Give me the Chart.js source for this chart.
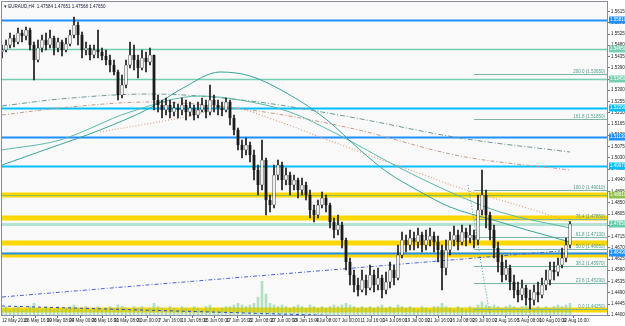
<!DOCTYPE html>
<html><head><meta charset="utf-8">
<script src="https://cdn.jsdelivr.net/npm/chart.js@4.4.0/dist/chart.umd.min.js"></script>
<style>html,body{margin:0;padding:0;background:#fff;overflow:hidden}canvas{display:block}</style>
</head><body>
<canvas id="c" width="625" height="326"></canvas>
<script>
const symbolTitle = 'EURAUD,H4  1.47584 1.47651 1.47568 1.47650';
const firstOpen = 1.5453;
const closes = [
1.5461,1.5481,1.5509,1.5493,1.5529,1.5517,1.5541,1.5481,1.5421,1.5469,
1.5501,1.5481,1.5509,1.5469,1.5493,1.5461,1.5485,1.5521,1.5561,1.5521,
1.5461,1.5469,1.5441,1.5461,1.5453,1.5437,1.5421,1.5401,1.5373,1.5281,
1.5321,1.5401,1.5441,1.5421,1.5389,1.5429,1.5413,1.5441,1.5261,1.5241,
1.5221,1.5241,1.5213,1.5229,1.5221,1.5241,1.5213,1.5229,1.5201,1.5221,
1.5241,1.5213,1.5261,1.5241,1.5229,1.5221,1.5253,1.5189,1.5141,1.5081,
1.5061,1.5081,1.5041,1.4981,1.4921,1.5021,1.4861,1.4841,1.4961,1.5001,
1.4941,1.4961,1.4921,1.4941,1.4901,1.4921,1.4881,1.4821,1.4801,1.4841,
1.4869,1.4841,1.4773,1.4741,1.4761,1.4701,1.4613,1.4561,1.4521,1.4501,
1.4541,1.4509,1.4561,1.4521,1.4549,1.4501,1.4533,1.4581,1.4549,1.4641,
1.4701,1.4681,1.4709,1.4693,1.4721,1.4681,1.4701,1.4717,1.4693,1.4661,
1.4589,1.4661,1.4701,1.4721,1.4693,1.4733,1.4709,1.4721,1.4701,1.4821,
1.4881,1.4801,1.4741,1.4669,1.4613,1.4561,1.4589,1.4533,1.4501,1.4481,
1.4509,1.4469,1.4461,1.4493,1.4481,1.4521,1.4541,1.4581,1.4573,1.4601,
1.4629,1.4681,1.4765];
const highs = [
1.5481,1.5501,1.5529,1.5521,1.5549,1.5541,1.5553,1.5549,1.5493,1.5501,
1.5521,1.5529,1.5541,1.5517,1.5509,1.5501,1.5509,1.5541,1.5593,1.5573,
1.5533,1.5493,1.5481,1.5481,1.5541,1.5469,1.5461,1.5441,1.5421,1.5381,
1.5361,1.5421,1.5493,1.5481,1.5441,1.5461,1.5453,1.5469,1.5441,1.5281,
1.5261,1.5269,1.5261,1.5253,1.5245,1.5269,1.5261,1.5253,1.5241,1.5253,
1.5269,1.5261,1.5321,1.5281,1.5261,1.5253,1.5269,1.5261,1.5201,1.5149,
1.5101,1.5109,1.5093,1.5061,1.5001,1.5101,1.5029,1.4881,1.5001,1.5021,
1.5013,1.4989,1.4973,1.4961,1.4949,1.4949,1.4933,1.4901,1.4841,1.4861,
1.4893,1.4881,1.4849,1.4789,1.4801,1.4773,1.4709,1.4629,1.4581,1.4549,
1.4581,1.4561,1.4601,1.4581,1.4589,1.4561,1.4573,1.4613,1.4601,1.4681,
1.4733,1.4721,1.4741,1.4733,1.4749,1.4733,1.4741,1.4749,1.4733,1.4717,
1.4681,1.4701,1.4733,1.4757,1.4741,1.4761,1.4749,1.4761,1.4741,1.4881,
1.4981,1.4901,1.4813,1.4761,1.4693,1.4641,1.4621,1.4601,1.4561,1.4533,
1.4541,1.4521,1.4501,1.4521,1.4533,1.4549,1.4581,1.4613,1.4613,1.4629,
1.4669,1.4709,1.4775];
const lows = [
1.5429,1.5453,1.5469,1.5473,1.5485,1.5493,1.5501,1.5461,1.5341,1.5413,
1.5453,1.5461,1.5469,1.5441,1.5453,1.5437,1.5453,1.5477,1.5509,1.5481,
1.5429,1.5441,1.5421,1.5429,1.5429,1.5421,1.5401,1.5373,1.5361,1.5261,
1.5269,1.5309,1.5389,1.5381,1.5349,1.5381,1.5373,1.5401,1.5221,1.5213,
1.5189,1.5201,1.5189,1.5197,1.5189,1.5201,1.5181,1.5197,1.5181,1.5189,
1.5213,1.5189,1.5201,1.5213,1.5201,1.5197,1.5213,1.5161,1.5121,1.5061,
1.5029,1.5041,1.5013,1.4941,1.4881,1.4901,1.4801,1.4813,1.4829,1.4941,
1.4901,1.4921,1.4881,1.4901,1.4869,1.4881,1.4861,1.4789,1.4773,1.4789,
1.4829,1.4813,1.4749,1.4709,1.4721,1.4669,1.4581,1.4521,1.4493,1.4477,
1.4493,1.4481,1.4501,1.4493,1.4501,1.4469,1.4485,1.4509,1.4521,1.4541,
1.4629,1.4653,1.4661,1.4661,1.4669,1.4653,1.4661,1.4677,1.4653,1.4613,
1.4501,1.4561,1.4641,1.4677,1.4661,1.4681,1.4677,1.4689,1.4669,1.4681,
1.4801,1.4749,1.4701,1.4629,1.4573,1.4533,1.4541,1.4501,1.4469,1.4453,
1.4461,1.4441,1.4425,1.4441,1.4453,1.4469,1.4501,1.4521,1.4541,1.4557,
1.4589,1.4613,1.4669];
const volumes = [
2,3,2,2.5,3,2,2,3,4,2.5, 2,3,2.5,2,3,2,2.5,3,3.5,2.5,
2,3,2,2.5,3,2,2.5,3,2.5,3.5, 3,2.5,2,3,2.5,3,2,2.5,4,3,
2.5,2,3,2.5,2,3,2.5,2,3,2.5, 2,3,3.5,2.5,2,2.5,3,3,3.5,4,
3.5,3,3.5,4,6,11,7,4,3.5,3, 3.5,3,2.5,3,3.5,3,2.5,3.5,3,2.5,
3,2.5,3,3.5,3,3.5,4,3.5,3,2.5, 3,2.5,3,2.5,3,3.5,2.5,3,2.5,3.5,
3,2.5,3,2.5,2,3,2.5,2,3,3, 4,3,2.5,2,3,2.5,2,3,2.5,3.5,
4.5,3.5,3,3.5,3,2.5,3,3.5,3,2.5, 3,3.5,3,2.5,3,2.5,3,2.5,3,3.5,
3,3.5,4];
const xTickLabels = ['12 May 2016','16 May 16:00','19 May 08:00','24 May 00:00','26 May 16:00','31 May 08:00',
'3 Jun 00:00','7 Jun 16:00','10 Jun 08:00','15 Jun 00:00','17 Jun 16:00','22 Jun 08:00','27 Jun 00:00',
'29 Jun 16:00','4 Jul 08:00','7 Jul 00:00','11 Jul 16:00','14 Jul 08:00','19 Jul 00:00','21 Jul 16:00',
'26 Jul 08:00','29 Jul 00:00','2 Aug 16:00','5 Aug 08:00','10 Aug 00:00','12 Aug 16:00'];
const labelStep = 5.6;
const yTicks = [1.44000,1.44450,1.44900,1.45350,1.45800,1.46250,1.46700,1.47150,1.47600,1.48050,1.48500,
1.48950,1.49400,1.49850,1.50300,1.50750,1.51200,1.51650,1.52100,1.52550,1.53000,1.53450,1.53900,1.54350,
1.54800,1.55250,1.55700,1.56150];
// horizontal levels (prices)
const lineLevels = [1.5581,1.5465,1.5345,1.5229,1.5113,1.4997,1.4881,1.4765,1.4649];
const lineKinds  = ['blue','green','green','sky','blue','sky','olive','bid','blue'];
const bandLevels = [1.4881,1.4789,1.4689,1.4641,1.4421];
const fibLevels = [0,23.6,38.2,50,61.8,76.4,100,161.8,200];
const fibPrices = [1.4425,1.4529,1.4597,1.4665,1.4713,1.4785,1.4901,1.5185,1.5365];
const fibStart = 118;
// moving averages [bar, price]
const maA = [[0,1.5001],[12,1.5069],[24.5,1.5141],[37,1.5229],[45.25,1.5309],[54.5,1.5373],[62,1.5357],[72,1.5281],[81.25,1.5181],[89.5,1.5061],[96.25,1.4973],[103.75,1.4901],[112,1.4833],[122.75,1.4781],[131.25,1.4741],[142,1.4693]];
const maB = [[0,1.5061],[14.5,1.5101],[32,1.5213],[49.5,1.5277],[59.5,1.5261],[72,1.5213],[83.25,1.5129],[99.5,1.4989],[112,1.4893],[124.5,1.4813],[142,1.4749]];
const maC = [[0,1.5237],[14.5,1.5265],[37,1.5285],[62,1.5257],[87,1.5193],[114.5,1.5109],[142,1.5053]];
const maD = [[0,1.5201],[14.5,1.5229],[37,1.5253],[62,1.5221],[87,1.5149],[114.5,1.5037],[142,1.4981]];
const maE = [[24.5,1.5133],[44.5,1.5189],[57,1.5229],[69.5,1.5173],[79.5,1.5113],[89.5,1.5053],[102,1.4981],[114.5,1.4909],[124.5,1.4861],[134.5,1.4813],[142,1.4773]];
const trendUp = [[0,1.4473],[139.5,1.4657]];
const trendLow = [[0,1.4437],[87,1.4397]];
const trendSteep = [[116.5,1.4921],[122,1.4397]];

const opens = closes.map((c,i)=> i===0 ? firstOpen : closes[i-1]);
const pts = a => a.map(p=>({x:p[0], y:p[1]}));
const kindColor = {blue:'#1e90ff', sky:'#00bfff', green:'#74cfb2', olive:'#8fc04a', bid:'#b5e3d3'};
const kindWidth = {blue:2, sky:2, green:1.5, olive:1, bid:3};

const overlay = {
  id:'overlay',
  beforeDraw(chart){
    const {ctx, chartArea:a} = chart;
    ctx.save(); ctx.fillStyle='#f9f9f9'; ctx.fillRect(a.left,a.top,a.width,a.height); ctx.restore();
  },
  beforeDatasetsDraw(chart){
    const {ctx, chartArea:a, scales:{x,y}} = chart;
    ctx.save();
    bandLevels.forEach(p=>{ const py=y.getPixelForValue(p); ctx.fillStyle='#ffd700'; ctx.fillRect(a.left,py-2.5,a.width,5); });
    lineLevels.forEach((p,i)=>{ const py=Math.round(y.getPixelForValue(p))+0.5; ctx.strokeStyle=kindColor[lineKinds[i]]; ctx.lineWidth=kindWidth[lineKinds[i]];
      ctx.beginPath(); ctx.moveTo(a.left,py); ctx.lineTo(a.right,py); ctx.stroke(); });
    const fx = x.getPixelForValue(fibStart);
    ctx.font='4.5px "Liberation Sans"'; ctx.textAlign='right'; ctx.textBaseline='bottom';
    fibPrices.forEach((p,i)=>{ const py=Math.round(y.getPixelForValue(p))+0.5;
      ctx.strokeStyle='#7fb5a5'; ctx.lineWidth=1; ctx.beginPath(); ctx.moveTo(fx,py); ctx.lineTo(a.right,py); ctx.stroke();
      ctx.fillStyle='#4f9f8f'; ctx.fillText(fibLevels[i].toFixed(1)+' ('+p.toFixed(5)+')', a.right-3, py-0.5); });
    ctx.restore();
  },
  afterDraw(chart){
    const {ctx, chartArea:a, scales:{y}} = chart;
    ctx.save();
    ctx.strokeStyle='#8a8aa8'; ctx.lineWidth=1;
    ctx.strokeRect(a.left+0.5,a.top+0.5,a.width-1,a.height-1);
    ctx.font='4.5px "Liberation Sans"'; ctx.textBaseline='middle'; ctx.textAlign='left';
    lineLevels.forEach((p,i)=>{ const py=y.getPixelForValue(p); const k=lineKinds[i];
      ctx.fillStyle = k==='bid' ? '#66cdaa' : kindColor[k]; ctx.fillRect(a.right+1,py-3.5,16,7);
      ctx.fillStyle='#ffffff'; ctx.fillText(p.toFixed(5), a.right+2, py+0.2); });
    ctx.fillStyle='#202040'; ctx.font='4.5px "Liberation Sans"'; ctx.textBaseline='middle';
    ctx.fillText('\u25BE '+symbolTitle, 4, 7);
    ctx.restore();
  }
};

const lineDs = (data, color, dash, width) => ({type:'line', data:pts(data), borderColor:color, borderWidth:width||1,
  borderDash:dash||[], pointRadius:0, tension:0.4, cubicInterpolationMode:'monotone', fill:false, order:5, yAxisID:'y'});
const noPad = s => { s.paddingTop = 0; s.paddingBottom = 0; s.paddingLeft = 0; s.paddingRight = 0; };

new Chart(document.getElementById('c'), {
  type:'bar',
  data:{ datasets:[
    {label:'volume', data:volumes.map((v,i)=>({x:i,y:v})), yAxisID:'yv', backgroundColor:'rgba(110,200,140,0.5)', barThickness:2, order:6},
    lineDs(maA,'#3aa59a',[],1),
    lineDs(maB,'#5cb8ac',[],1),
    lineDs(maC,'#6f9a9a',[5,2,1,2],1),
    lineDs(maD,'#c99a82',[4,2,1,2],1),
    lineDs(maE,'#e3a478',[1,2],1.2),
    lineDs(trendUp,'#4a64e0',[4,2,1,2],1),
    lineDs(trendLow,'#3050d0',[3,3],1),
    lineDs(trendSteep,'#3ea0a0',[1,2],1),
    {label:'wick', data:lows.map((l,i)=>({x:i,y:[l,highs[i]]})), backgroundColor:'#1a1a1a', barThickness:1, order:2, yAxisID:'y'},
    {label:'body', data:opens.map((o,i)=>({x:i,y:[o,closes[i]]})), yAxisID:'y',
      backgroundColor:opens.map((o,i)=> closes[i]>=o ? '#ffffff' : '#1a1a1a'), borderColor:'#1a1a1a', borderWidth:0.7,
      borderSkipped:false, barThickness:2.6, minBarLength:1, order:1}
  ]},
  options:{
    responsive:false, animation:false, devicePixelRatio:1,
    layout:{padding:{left:1, top:1, right:0, bottom:0}},
    datasets:{bar:{grouped:false}},
    plugins:{legend:{display:false}, tooltip:{enabled:false}},
    scales:{
      x:{type:'linear', min:-0.25, max:151.5, offset:false,
        grid:{display:true, drawOnChartArea:false, drawTicks:true, tickLength:2, color:'#777'},
        border:{display:false},
        afterBuildTicks:s=>{ s.ticks = xTickLabels.map((t,k)=>({value:k*labelStep})); },
        afterFit:s=>{ s.height = 10; noPad(s); },
        ticks:{autoSkip:false, maxRotation:0, align:'start', padding:0, color:'#222',
          font:{size:4.5, family:'Liberation Sans'}, callback:(v,i)=>xTickLabels[i]}},
      y:{position:'right', min:1.4397, max:1.5657,
        grid:{display:true, drawOnChartArea:false, drawTicks:true, tickLength:2, color:'#777'},
        border:{display:false},
        afterBuildTicks:s=>{ s.ticks = yTicks.map(v=>({value:v})); },
        afterFit:s=>{ s.width = 17; noPad(s); },
        ticks:{padding:1, color:'#222', font:{size:4.5, family:'Liberation Sans'}, callback:v=>v.toFixed(5)}},
      yv:{display:false, min:0, max:100}
    }
  },
  plugins:[overlay]
});
</script>
</body></html>
